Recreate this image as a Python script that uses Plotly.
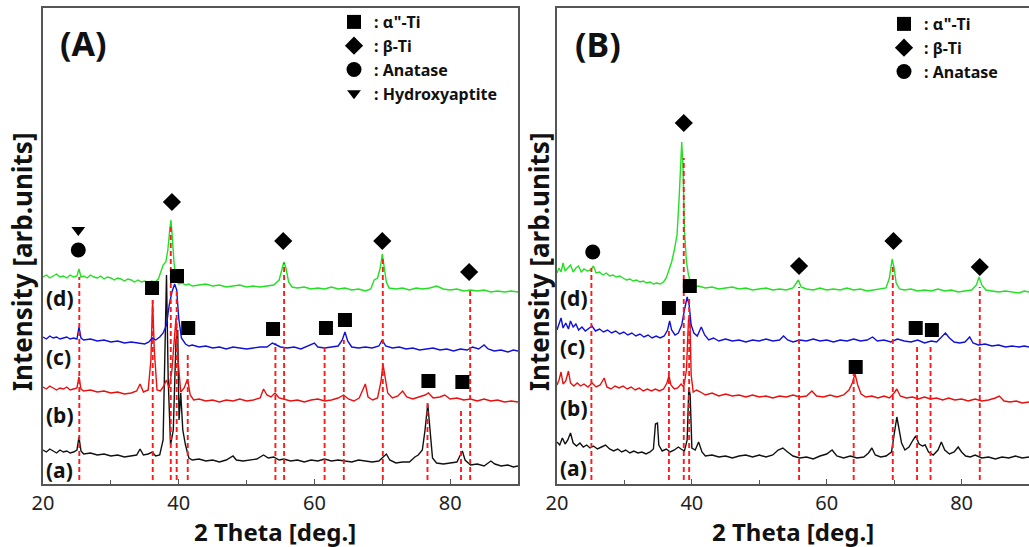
import plotly.graph_objects as go

# ---------------- data (2 theta [deg], intensity [arb. units]) ----------------
# Panel A
A_d_x = [20.0,20.5,21.0,21.5,22.0,22.5,23.0,23.5,24.0,24.5,25.0,25.3,25.6,26.0,26.5,27.0,27.5,28.0,28.5,29.0,29.5,30.0,30.5,31.0,31.5,32.0,32.5,33.0,33.5,34.0,34.5,35.0,35.5,36.0,36.5,37.0,37.3,37.7,38.1,38.4,38.7,38.85,39.0,39.3,39.6,40.0,40.5,41.0,41.5,42.0,43,44,45,46,47,48,49,50,51,52,53,54,54.8,55.2,55.5,55.8,56.2,56.7,57.5,58.5,59.5,60.5,61.5,62.5,63.5,64.5,65.5,66.5,67.5,68.3,68.8,69.3,69.7,70.0,70.3,70.6,71.0,72,73,74,75,76,77,78,79,80,81,82,83,84,85,86,87,88,89,90]
A_d_y = [207,209,206,208,210,207,208,206,209,207,208,215,207,208,206,209,207,206,208,205,207,206,204,206,205,203,205,204,202,204,202,203,201,203,202,205,212,219,222,234,256,264,252,222,204,200,201,199,200,198,199,200,198,199,197,198,199,197,198,197,198,199,204,214,222,216,202,197,196,197,195,196,195,197,195,196,194,195,193,195,204,206,216,230,216,202,196,195,196,194,196,195,196,198,195,194,195,193,194,193,194,192,193,192,193,192]

A_c_x = [20,20.5,21,21.5,22,22.5,23,23.5,24,24.5,25.0,25.3,25.6,26,27,28,29,30,31,32,33,34,35,35.6,36.1,36.6,37.2,37.7,38.2,38.6,39.0,39.4,39.7,40.0,40.4,41.0,41.5,42,43,44,45,46,47,48,49,50,51,52,53,53.8,54.4,55,56,57,58,59,60,60.5,61.5,62.5,63.5,64.1,64.5,64.9,65.5,66.5,67.5,68.5,69.5,70.0,70.5,71.5,72.5,73.5,74.5,75.5,76.5,77.5,78.5,79.5,80.5,81.5,82.5,83.3,84.2,85.0,85.6,86.5,87.5,88.5,89.3,90]
A_c_y = [147,145,148,146,147,145,146,147,145,146,145,157,146,144,145,143,144,142,143,141,142,141,140,142,146,144,147,151,159,179,192,200,194,166,146,140,138,139,137,138,136,137,135,137,136,135,136,137,137,141,139,137,136,137,135,138,141,137,136,137,138,144,152,143,137,136,137,136,138,144,138,136,137,135,136,134,135,136,134,135,133,135,134,137,135,139,135,133,134,132,134,133]

A_b_x = [20,20.5,21,21.5,22,22.5,23,23.5,24,24.5,25.0,25.3,25.6,26,27,28,29,30,31,32,33,33.8,34.3,34.8,35.5,35.9,36.15,36.4,36.8,37.3,37.8,38.2,38.6,39.0,39.3,39.6,39.9,40.3,40.8,41.3,41.7,42.2,43,44,45,46,47,48,49,50,51,52.0,52.5,53.0,53.6,54.2,54.8,55.5,56.5,57.5,58.5,59.5,60.5,61.5,62.5,63.5,64.3,65.0,65.8,66.6,67.2,67.5,67.9,68.6,69.3,69.8,70.1,70.4,70.8,71.5,72.3,73.0,73.6,74.5,75.5,76.3,76.8,77.5,78.5,79.2,80,81,82,83,84,85,86,87,88,89,90]
A_b_y = [97,95,98,96,94,96,95,97,94,95,96,107,95,93,94,92,93,91,92,90,91,93,100,92,94,124,184,134,94,93,98,104,96,114,144,166,124,92,96,105,89,84,85,83,84,82,84,83,85,83,84,86,95,89,87,91,86,85,83,84,82,84,85,83,84,86,89,85,83,86,96,100,87,84,86,102,120,109,91,86,88,93,87,85,87,89,91,86,87,89,85,86,84,85,83,85,83,84,82,83,82]

A_a_x = [20,20.5,21,21.5,22,22.5,23,23.5,24,24.5,25.0,25.3,25.6,26,27,28,29,30,31,32,33,33.8,34.3,34.8,35.5,36.1,36.6,37.2,37.7,38.0,38.2,38.45,38.8,39.2,39.6,39.85,40.05,40.3,40.6,41.0,41.5,42,43,44,45,46,47,48.0,48.5,49.5,50.5,51.5,52.5,53.2,54.0,54.8,55.5,56.5,57.5,58.5,59.5,60.5,61.5,62.5,63.5,64.5,65.5,66.5,67.5,68.5,69.5,70.2,70.6,71.1,72.0,73.0,74.0,74.8,75.3,75.9,76.3,76.7,77.0,77.4,78.0,79.0,80.0,81.0,81.5,81.8,82.2,83.0,84.0,85.0,86.0,86.6,87.5,88.5,89.3,90.0]
A_a_y = [34,32,35,33,31,34,32,33,31,32,34,47,33,30,31,29,30,28,29,27,28,29,35,29,30,32,28,29,44,154,209,104,39,54,144,154,64,91,54,39,26,24,25,23,24,22,24,28,24,23,24,25,29,26,27,24,25,23,24,22,24,23,25,23,24,23,22,24,23,22,23,27,30,24,21,22,22,27,29,34,54,80,59,26,21,20,21,22,29,33,24,19,20,18,23,20,18,19,17,18]

# Panel B
B_d_x = [20.0,20.3,20.6,20.9,21.2,21.6,22.0,22.4,22.8,23.2,23.6,24.0,24.5,25.0,25.4,25.8,26.3,26.8,27.3,27.8,28.3,28.8,29.3,29.8,30.3,30.8,31.3,31.8,32.3,32.8,33.3,33.8,34.3,34.8,35.3,35.8,36.2,36.6,37.0,37.4,37.8,38.1,38.35,38.5,38.7,38.9,39.2,39.5,39.9,40.4,41,42,43,44,45,46,47,48,49,50,51,52,53,54,55.0,55.5,55.8,56.2,57,58,59,60,61,62,63,64,65,66,67,68,68.8,69.3,69.7,70.0,70.3,70.8,71.5,72.5,73.5,74.5,75.5,76.5,77.5,78.5,79.5,80.5,81.5,82.2,82.6,83.0,83.6,84.5,85.5,86.5,87.5,88.5,89.3,90.0]
B_d_y = [211,216,212,221,213,216,219,212,216,218,212,215,213,214,218,211,212,209,211,208,209,207,208,206,204,205,203,204,202,203,201,202,200,201,200,202,206,214,222,234,249,284,334,342,314,254,222,209,199,197,198,196,197,195,196,197,195,196,194,195,196,194,195,194,196,201,204,197,195,194,196,194,195,194,196,194,195,193,194,195,196,206,225,216,201,195,194,195,193,194,193,195,193,194,192,193,194,199,207,199,194,193,192,193,192,191,193,192]

B_c_x = [20.0,20.3,20.6,20.9,21.3,21.7,22.0,22.4,22.8,23.2,23.7,24.2,24.7,25.2,25.7,26.3,26.9,27.5,28.1,28.7,29.3,29.9,30.5,31.1,31.7,32.3,32.9,33.5,34.1,34.7,35.3,35.9,36.4,36.7,37.0,37.5,38.0,38.5,38.9,39.3,39.6,39.9,40.3,40.8,41.4,41.9,42.5,43.2,44,45,46,47,48,49,50,51,52,53,53.6,54.2,55,56,57,58,59,60,61,62,63,64,65,66,66.8,67.5,68.5,69.5,70.5,71.5,72.5,73.5,74.5,75.5,76.3,77.0,77.6,78.2,78.9,79.7,80.5,81.2,81.7,82.5,83.5,84.5,85.5,86.5,87.5,88.5,89.3,90.0]
B_c_y = [154,159,166,156,161,155,163,157,160,154,157,153,156,158,153,155,152,154,151,153,150,152,149,151,148,150,147,149,146,148,146,148,154,163,154,149,151,159,174,187,179,159,151,148,157,149,144,146,143,145,143,144,142,144,143,145,143,144,148,144,142,144,143,145,143,144,142,144,143,145,143,144,147,143,144,142,145,143,142,144,141,143,142,147,151,146,142,141,142,147,141,139,140,138,139,137,138,137,138,137]

B_b_x = [20.0,20.3,20.6,20.9,21.3,21.7,22.0,22.5,23.0,23.5,24.0,24.6,25.2,25.8,26.4,27.0,27.4,28.0,28.6,29.2,29.8,30.4,31.0,31.6,32.2,32.8,33.4,34.0,34.6,35.2,35.8,36.3,36.6,36.9,37.4,37.9,38.4,38.8,39.2,39.5,39.7,39.9,40.2,40.7,41.3,42,43,44,45,46,47,48,49,50,51,52,53,54,55,56,57,57.8,58.5,59.5,60.5,61.5,62.5,63.3,63.8,64.2,64.6,65.1,65.8,66.7,67.6,68.5,69.3,70.0,70.4,70.9,71.8,72.7,73.6,74.5,75.4,76.3,77.2,78.1,79.0,80.0,81.0,82.0,83.0,84.0,85.0,85.6,86.3,87.2,88.1,89.0,90.0]
B_b_y = [99,104,112,100,103,113,101,98,101,98,100,97,101,97,99,106,97,95,98,96,98,95,97,94,96,93,95,93,95,93,95,101,108,99,95,96,100,97,114,164,168,109,92,94,92,89,91,88,90,88,89,87,89,87,88,86,88,87,89,87,88,93,88,87,89,87,89,94,101,110,99,90,87,88,86,88,86,91,95,88,86,87,85,87,85,86,84,86,84,85,83,85,83,84,86,88,83,82,83,81,82]

B_a_x = [20.0,20.4,20.8,21.2,21.6,22.0,22.4,22.9,23.4,23.9,24.4,24.9,25.4,26.0,26.6,27.2,27.8,28.4,29.0,29.6,30.2,30.8,31.4,32.0,32.6,33.2,33.8,34.3,34.6,34.9,35.1,35.6,36.2,36.8,37.4,38.0,38.4,38.9,39.3,39.55,39.75,40.0,40.5,41.0,41.5,42.0,43,44,45,46,47,48,49,50,51,52,52.8,53.5,54.2,55,56,57,58,59,60,60.8,61.5,62.5,63.5,64.5,65.5,66.2,66.7,67.2,68.0,68.8,69.6,70.1,70.4,70.7,71.1,71.6,72.2,72.8,73.2,73.7,74.2,74.6,75.1,75.8,76.5,77.0,77.5,78.2,78.9,79.5,80.0,80.6,81.3,82.0,83.0,84.0,85.0,86.0,87.0,88.0,89.0,90.0]
B_a_y = [42,39,46,40,44,51,41,38,41,37,39,36,38,35,37,39,35,33,35,32,34,31,33,31,32,30,32,35,60,61,39,33,35,32,34,37,35,33,44,96,89,36,34,42,32,28,29,27,28,26,28,29,27,29,27,29,34,36,32,28,26,27,25,28,30,34,28,26,28,26,27,31,36,29,27,28,32,54,67,56,41,34,37,44,48,40,38,39,32,29,34,42,34,30,32,37,32,28,27,29,26,27,25,27,26,28,26,27]

# reference lines (peak positions) and their upper ends
A_ref_pos = [25.35, 36.17, 38.83, 39.7, 41.33, 54.25, 55.53, 61.5, 64.33, 70.08, 76.66, 81.6, 82.95]
A_ref_top = [207, 184, 257, 194, 131, 141, 221, 139, 144, 227, 81, 76, 194]
B_ref_pos = [25.1, 36.6, 38.8, 39.6, 55.9, 64.0, 69.8, 73.4, 75.4, 82.7]
B_ref_top = [216, 154, 326, 187, 197, 111, 217, 137, 139, 197]
ref_bottom = 4

# phase markers
A_alpha_x = [36.07, 39.75, 41.4, 53.9, 61.7, 64.5, 76.8, 81.8]
A_alpha_y = [196, 208, 156, 155, 156, 164, 103, 102]
A_beta_x = [39.0, 55.4, 70.0, 82.8]
A_beta_y = [282, 243, 243, 212]
A_anat_x = [25.2]
A_anat_y = [234]
A_hap_x = [25.2]
A_hap_y = [254]

B_alpha_x = [36.6, 39.7, 64.3, 73.2, 75.6]
B_alpha_y = [176, 198, 117, 156, 154]
B_beta_x = [38.8, 55.9, 69.9, 82.7]
B_beta_y = [361, 218, 243, 217]
B_anat_x = [25.3]
B_anat_y = [232]

sample_labels = ["(a)", "(b)", "(c)", "(d)"]
A_label_y = [14, 69, 127, 186]
B_label_y = [16, 76, 137, 186]
x_ticks = [20, 40, 60, 80]

phase_names = [': α"-Ti', ': β-Ti', ': Anatase', ': Hydroxyaptite']

# ---------------- figure ----------------
W, H = 1029, 547
FONT = "Noto Sans"
colors = {"a": "#111111", "b": "#e8100f", "c": "#1010d8", "d": "#22e022"}

fig = go.Figure()

def add_pattern(x, y, col, xa, ya):
    fig.add_trace(go.Scatter(x=x, y=y, mode="lines", line=dict(color=col, width=1.4),
                             xaxis=xa, yaxis=ya, showlegend=False, hoverinfo="skip"))

add_pattern(A_a_x, A_a_y, colors["a"], "x", "y")
add_pattern(A_b_x, A_b_y, colors["b"], "x", "y")
add_pattern(A_c_x, A_c_y, colors["c"], "x", "y")
add_pattern(A_d_x, A_d_y, colors["d"], "x", "y")
add_pattern(B_a_x, B_a_y, colors["a"], "x2", "y2")
add_pattern(B_b_x, B_b_y, colors["b"], "x2", "y2")
add_pattern(B_c_x, B_c_y, colors["c"], "x2", "y2")
add_pattern(B_d_x, B_d_y, colors["d"], "x2", "y2")

def add_refs(pos, top, xa, ya):
    xs, ys = [], []
    for p, t in zip(pos, top):
        xs += [p, p, None]
        ys += [ref_bottom, t, None]
    fig.add_trace(go.Scatter(x=xs, y=ys, mode="lines",
                             line=dict(color="#ff1a1a", width=1.9, dash="5px,3px"),
                             xaxis=xa, yaxis=ya, showlegend=False, hoverinfo="skip"))

add_refs(A_ref_pos, A_ref_top, "x", "y")
add_refs(B_ref_pos, B_ref_top, "x2", "y2")

def add_markers(x, y, symbol, size, name, xa, ya, legend):
    fig.add_trace(go.Scatter(x=x, y=y, mode="markers", name="<b>" + name + "</b>",
                             marker=dict(symbol=symbol, size=size, color="black"),
                             xaxis=xa, yaxis=ya, legend=legend, showlegend=True))

add_markers(A_alpha_x, A_alpha_y, "square", 14, phase_names[0], "x", "y", "legend")
add_markers(A_beta_x, A_beta_y, "diamond", 14, phase_names[1], "x", "y", "legend")
add_markers(A_anat_x, A_anat_y, "circle", 15, phase_names[2], "x", "y", "legend")
add_markers(A_hap_x, A_hap_y, "triangle-down", 12, phase_names[3], "x", "y", "legend")
add_markers(B_alpha_x, B_alpha_y, "square", 14, phase_names[0], "x2", "y2", "legend2")
add_markers(B_beta_x, B_beta_y, "diamond", 14, phase_names[1], "x2", "y2", "legend2")
add_markers(B_anat_x, B_anat_y, "circle", 15, phase_names[2], "x2", "y2", "legend2")

def px(v):
    return v / W

def py(v):
    return 1 - v / H

axis_common = dict(range=[20, 90], showgrid=False, zeroline=False, showline=True, mirror=True,
                   automargin=False,
                   linecolor="#555555", linewidth=1.5, ticks="inside", ticklen=5, tickwidth=1.2,
                   tickcolor="#555555", tickvals=x_ticks,
                   minor=dict(ticks="inside", ticklen=4, tickwidth=1.2, tickcolor="#555555", dtick=10, tick0=0),
                   tickfont=dict(family=FONT, size=20, color="#222222"))
yaxis_common = dict(range=[0, 476], showgrid=False, zeroline=False, showline=True, mirror=True,
                    automargin=False,
                    linecolor="#555555", linewidth=1.5, showticklabels=False, ticks="")

ydom = [63 / H, 539 / H]
fig.update_layout(
    template="none",
    width=W, height=H, margin=dict(l=0, r=0, t=0, b=0, pad=0),
    paper_bgcolor="white", plot_bgcolor="white",
    xaxis=dict(domain=[43 / W, 518 / W], anchor="y", **axis_common),
    yaxis=dict(domain=ydom, anchor="x", **yaxis_common),
    xaxis2=dict(domain=[557 / W, 1.0], anchor="y2", **axis_common),
    yaxis2=dict(domain=ydom, anchor="x2", **yaxis_common),
    legend=dict(x=px(334), y=py(5), xanchor="left", yanchor="top", bgcolor="rgba(0,0,0,0)",
                font=dict(family=FONT, size=16, color="#111111"), tracegroupgap=0, itemsizing="trace"),
    legend2=dict(x=px(884), y=py(7), xanchor="left", yanchor="top", bgcolor="rgba(0,0,0,0)",
                 font=dict(family=FONT, size=16, color="#111111"), tracegroupgap=0, itemsizing="trace"),
    showlegend=True,
)

ann = []
def add_ann(text, x, y, size, xref="paper", yref="paper", xanchor="center", angle=0):
    ann.append(dict(text=text, x=x, y=y, xref=xref, yref=yref, xanchor=xanchor, yanchor="middle",
                    showarrow=False, textangle=angle,
                    font=dict(family=FONT, size=size, color="#111111")))

add_ann("<b>(A)</b>", px(83), py(43), 34)
add_ann("<b>(B)</b>", px(598), py(44), 34)
for cx in (275, 793):
    add_ann("<b>2 Theta [deg.]</b>", px(cx), py(531), 24)
for cx in (22, 539):
    add_ann("<b>Intensity [arb.units]</b>", px(cx), py(262), 26, angle=-90)
for lab, yy in zip(sample_labels, A_label_y):
    add_ann("<b>" + lab + "</b>", 20.2, yy, 21, xref="x", yref="y", xanchor="left")
for lab, yy in zip(sample_labels, B_label_y):
    add_ann("<b>" + lab + "</b>", 20.2, yy, 21, xref="x2", yref="y2", xanchor="left")
fig.update_layout(annotations=ann)

fig.write_html("out.html")
